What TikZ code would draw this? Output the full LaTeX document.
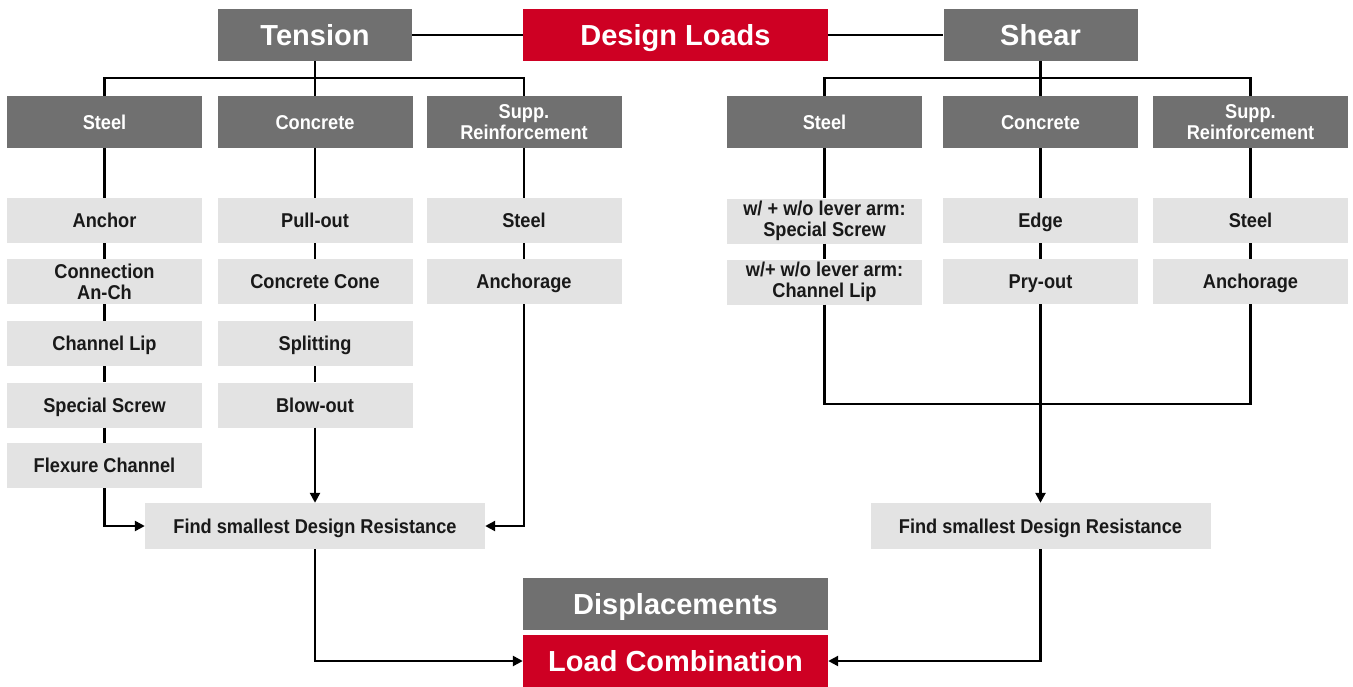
\documentclass[tikz,border=0pt]{standalone}
\usepackage{fontspec}
\setmainfont{Liberation Sans}
\newfontfamily\narrowbold[FakeStretch=0.91]{Liberation Sans Bold}
\usetikzlibrary{arrows.meta}
\definecolor{boxdark}{RGB}{112,112,112}
\definecolor{boxred}{RGB}{206,0,35}
\definecolor{boxlight}{RGB}{227,227,227}
\definecolor{inktext}{RGB}{25,25,25}
\tikzset{
  bigbox/.style={inner sep=0pt, minimum width=305pt, minimum height=52pt,
    text=white, font=\bfseries\fontsize{29pt}{32pt}\selectfont,
    text height=20.8pt, text depth=0pt},
  headbox/.style={bigbox, fill=boxdark, minimum width=194pt},
  redbox/.style={bigbox, fill=boxred},
  graybig/.style={bigbox, fill=boxdark},
  catbox/.style={inner sep=0pt, fill=boxdark, minimum width=195pt, minimum height=52pt,
    text=white, align=center, font=\narrowbold\fontsize{20pt}{21pt}\selectfont,
    text height=14.3pt, text depth=0pt},
  itembox/.style={inner sep=0pt, fill=boxlight, minimum width=195pt, minimum height=45pt,
    text=inktext, align=center, font=\narrowbold\fontsize{20pt}{21pt}\selectfont,
    text height=14.3pt, text depth=0pt},
  twoline/.style={text height={}, text depth={}},
  findbox/.style={itembox, minimum width=340pt, minimum height=46pt},
  link/.style={line width=2.4pt, draw=black},
  flow/.style={link, -{Triangle[length=10pt,width=10pt]}}
}
\begin{document}
\begin{tikzpicture}[x=1pt,y=-1pt]
\useasboundingbox (0,0) rectangle (1353,686);

% top row
\node[headbox] (tension) at (315,35) {Tension};
\node[redbox]  (loads)   at (675.5,35) {Design Loads};
\node[headbox] (shear)   at (1040.5,35) {Shear};

% tension categories
\node[catbox] (tsteel) at (104.5,122) {Steel};
\node[catbox] (tconc)  at (315,122) {Concrete};
\node[catbox, twoline] (tsupp)  at (524,122) {Supp.\\Reinforcement};

% shear categories
\node[catbox] (ssteel) at (824.5,122) {Steel};
\node[catbox] (sconc)  at (1040.5,122) {Concrete};
\node[catbox, twoline] (ssupp)  at (1250.5,122) {Supp.\\Reinforcement};

% tension: steel failure modes
\node[itembox] (ta1) at (104.5,220.5) {Anchor};
\node[itembox, twoline] (ta2) at (104.5,281.5) {Connection\\An-Ch};
\node[itembox] (ta3) at (104.5,343.5) {Channel Lip};
\node[itembox] (ta4) at (104.5,405) {Special Screw};
\node[itembox] (ta5) at (104.5,465.5) {Flexure Channel};

% tension: concrete failure modes
\node[itembox] (tb1) at (315,220.5) {Pull-out};
\node[itembox] (tb2) at (315,281.5) {Concrete Cone};
\node[itembox] (tb3) at (315,343.5) {Splitting};
\node[itembox] (tb4) at (315,405) {Blow-out};

% tension: supplementary reinforcement
\node[itembox] (tc1) at (524,220.5) {Steel};
\node[itembox] (tc2) at (524,281.5) {Anchorage};

% shear failure modes
\node[itembox, twoline] (sa1) at (824.5,221) {w/ + w/o lever arm:\\Special Screw};
\node[itembox, twoline] (sa2) at (824.5,282) {w/+ w/o lever arm:\\Channel Lip};
\node[itembox] (sb1) at (1040.5,220.5) {Edge};
\node[itembox] (sb2) at (1040.5,281.5) {Pry-out};
\node[itembox] (sc1) at (1250.5,220.5) {Steel};
\node[itembox] (sc2) at (1250.5,281.5) {Anchorage};

% result boxes
\node[findbox] (tfind) at (315,526) {Find smallest Design Resistance};
\node[findbox] (sfind) at (1040.5,526) {Find smallest Design Resistance};

% bottom
\node[graybig] (disp) at (675.5,604) {Displacements};
\node[redbox]  (comb) at (675.5,661) {Load Combination};

% junction points
\coordinate (tj) at (315,78);
\coordinate (sj) at (1040.5,78);
\coordinate (mj) at (1040.5,404);

% top connectors
\draw[link] (tension) -- (loads);
\draw[link] (loads) -- (shear);
\draw[link] (tension) -- (tj);
\draw[link] (tsteel.north) |- (tj) -| (tsupp.north);
\draw[link] (tj) -- (tconc);
\draw[link] (shear) -- (sj);
\draw[link] (ssteel.north) |- (sj) -| (ssupp.north);
\draw[link] (sj) -- (sconc);

% tension columns
\draw[link] (tsteel) -- (ta1);
\draw[link] (ta1) -- (ta2);
\draw[link] (ta2) -- (ta3);
\draw[link] (ta3) -- (ta4);
\draw[link] (ta4) -- (ta5);
\draw[link] (tconc) -- (tb1);
\draw[link] (tb1) -- (tb2);
\draw[link] (tb2) -- (tb3);
\draw[link] (tb3) -- (tb4);
\draw[link] (tsupp) -- (tc1);
\draw[link] (tc1) -- (tc2);
\draw[flow] (ta5.south) |- (tfind.west);
\draw[flow] (tb4) -- (tfind);
\draw[flow] (tc2.south) |- (tfind.east);

% shear columns
\draw[link] (ssteel) -- (sa1);
\draw[link] (sa1) -- (sa2);
\draw[link] (sconc) -- (sb1);
\draw[link] (sb1) -- (sb2);
\draw[link] (ssupp) -- (sc1);
\draw[link] (sc1) -- (sc2);
\draw[link] (sa2.south) |- (mj) -| (sc2.south);
\draw[link] (sb2) -- (mj);
\draw[flow] (mj) -- (sfind);

% combination
\draw[flow] (tfind.south) |- (comb.west);
\draw[flow] (sfind.south) |- (comb.east);
\end{tikzpicture}
\end{document}
